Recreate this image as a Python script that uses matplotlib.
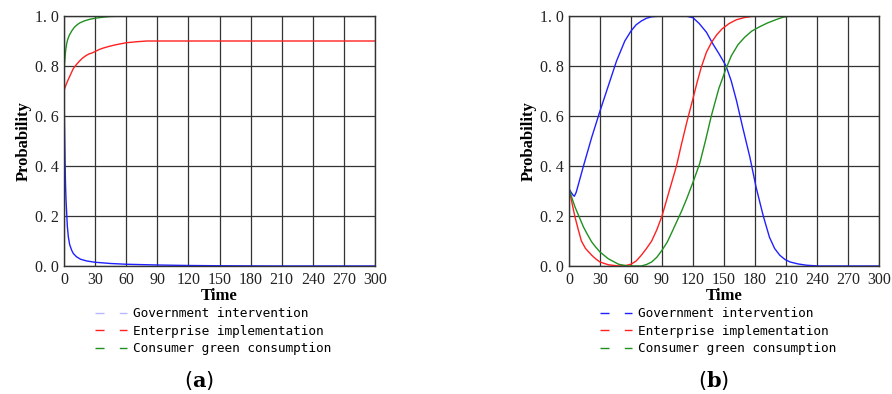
import matplotlib
matplotlib.use('Agg')
import matplotlib.pyplot as plt

plt.rcParams['mathtext.fontset'] = 'dejavuserif'

# panel (a)
t_gov_a = [0, 0.5, 1, 1.5, 2, 2.6, 3.2, 4.2, 5.5, 7.4, 9, 12, 16, 22, 30, 45, 60,
           90, 120, 150, 200, 300]
gov_a = [0.69, 0.55, 0.42, 0.32, 0.26, 0.21, 0.16, 0.116, 0.085, 0.063, 0.05, 0.037,
         0.027, 0.02, 0.015, 0.01, 0.007, 0.004, 0.002, 0.001, 0.0, 0.0]
t_ent_a = [0, 2, 4, 6, 9, 12, 15, 18, 21, 24, 27, 30, 34, 38, 44, 50, 60, 70, 80,
           90, 300]
ent_a = [0.703, 0.725, 0.745, 0.763, 0.79, 0.806, 0.82, 0.832, 0.841, 0.848, 0.852,
         0.858, 0.866, 0.872, 0.879, 0.885, 0.893, 0.897, 0.9, 0.9, 0.9]
t_con_a = [0, 0.5, 1, 1.5, 2, 2.6, 3.5, 5, 7.4, 10, 13, 15.5, 20, 25, 30, 37, 44,
           52, 60, 300]
con_a = [0.77, 0.81, 0.835, 0.858, 0.875, 0.89, 0.905, 0.922, 0.94, 0.955, 0.966,
         0.973, 0.981, 0.987, 0.991, 0.995, 0.998, 0.999, 1.0, 1.0]

# panel (b)
t_gov_b = [0, 2, 4, 5.2, 7, 9, 14, 22, 30, 38, 46, 54, 60, 65, 70, 75, 80, 90,
           100, 113, 120, 126, 133, 139, 145, 152, 157, 162, 168, 175, 181, 188,
           194, 199, 204, 209, 214, 222, 230, 242, 300]
gov_b = [0.309, 0.295, 0.283, 0.279, 0.295, 0.325, 0.4, 0.515, 0.62, 0.72, 0.82,
         0.9, 0.94, 0.965, 0.98, 0.991, 0.997, 1.0, 1.0, 1.0, 0.993, 0.97, 0.935,
         0.89, 0.85, 0.8, 0.74, 0.663, 0.556, 0.436, 0.316, 0.2, 0.115, 0.07,
         0.043, 0.026, 0.016, 0.008, 0.003, 0.0, 0.0]
t_ent_b = [0, 3, 5.8, 9, 12, 16, 22, 26, 30, 38, 48, 55, 60, 65, 70, 75, 80, 85,
           90, 97, 104, 109, 114, 120, 124, 128, 133, 138, 143, 148, 155, 162,
           170, 178, 185, 300]
ent_b = [0.309, 0.25, 0.196, 0.145, 0.1, 0.07, 0.043, 0.028, 0.016, 0.005, 0.0,
         0.002, 0.007, 0.02, 0.043, 0.07, 0.1, 0.145, 0.2, 0.3, 0.4, 0.49, 0.575,
         0.67, 0.735, 0.795, 0.855, 0.895, 0.925, 0.948, 0.97, 0.985, 0.994, 0.999,
         1.0, 1.0]
t_con_b = [0, 3, 5.8, 10, 14, 18, 22, 26, 30, 38, 48, 57, 70, 75, 80, 85, 90, 95,
           99, 104, 109, 114, 120, 126.5, 132, 137.7, 145, 152, 157, 163.5, 170,
           177, 184.5, 192, 200, 207, 214, 300]
con_b = [0.309, 0.27, 0.236, 0.195, 0.156, 0.125, 0.096, 0.075, 0.056, 0.029,
         0.007, 0.0, 0.0, 0.006, 0.016, 0.035, 0.063, 0.095, 0.13, 0.175, 0.22,
         0.27, 0.335, 0.41, 0.5, 0.6, 0.71, 0.79, 0.84, 0.885, 0.915, 0.94, 0.957,
         0.972, 0.985, 0.995, 1.0, 1.0]

labels = ['Government intervention', 'Enterprise implementation',
          'Consumer green consumption']
x_ticks = list(range(0, 301, 30))
y_ticks = [0.0, 0.2, 0.4, 0.6, 0.8, 1.0]
y_tick_labels = ['0. 0', '0. 2', '0. 4', '0. 6', '0. 8', '1. 0']

fig = plt.figure(figsize=(8.92, 3.94), dpi=100)
ax_a = fig.add_axes([64 / 892, 128 / 394, 311 / 892, 250 / 394])
ax_b = fig.add_axes([569 / 892, 128 / 394, 310 / 892, 250 / 394])

panels = [
    (ax_a, [(t_gov_a, gov_a), (t_ent_a, ent_a), (t_con_a, con_a)], '#b8b8ff'),
    (ax_b, [(t_gov_b, gov_b), (t_ent_b, ent_b), (t_con_b, con_b)], '#2020ff'),
]
colors = ['#2020ff', '#ff2020', '#209020']

for ax, series, leg_blue in panels:
    for (t, y), c, lab in zip(series, colors, labels):
        ax.plot(t, y, color=c, lw=1.0, label=lab)
    ax.set_xlim(0, 300)
    ax.set_ylim(0, 1)
    ax.set_xticks(x_ticks)
    ax.set_yticks(y_ticks)
    ax.set_yticklabels(y_tick_labels)
    ax.tick_params(length=0, pad=4, labelsize=11.5, colors='#222222')
    for lbl in ax.get_xticklabels() + ax.get_yticklabels():
        lbl.set_family('Liberation Serif')
    ax.grid(True, color='#333333', lw=0.9)
    for sp in ax.spines.values():
        sp.set_color('#333333')
        sp.set_linewidth(1.0)
    ax.set_xlabel('Time', family='Liberation Serif', fontweight='bold',
                  fontsize=12, labelpad=0)
    ax.set_ylabel('Probability', family='Liberation Serif', fontweight='bold',
                  fontsize=12, labelpad=2)

    handles = [plt.Line2D([], [], color=col, lw=1.0, dashes=(6.5, 11))
               for col in [leg_blue, colors[1], colors[2]]]
    ax.legend(handles, labels, loc='upper left', bbox_to_anchor=(0.1, -0.165),
              frameon=False, prop={'family': 'DejaVu Sans Mono', 'size': 9.2},
              handlelength=2.5, handletextpad=0.5, labelspacing=0.35,
              borderpad=0, borderaxespad=0)

fig.text(199 / 892, 1 - 380 / 394, r'($\mathbf{a}$)', ha='center', va='center',
         fontsize=15)
fig.text(714 / 892, 1 - 380 / 394, r'($\mathbf{b}$)', ha='center', va='center',
         fontsize=15)

fig.savefig('out.png', dpi=100)
